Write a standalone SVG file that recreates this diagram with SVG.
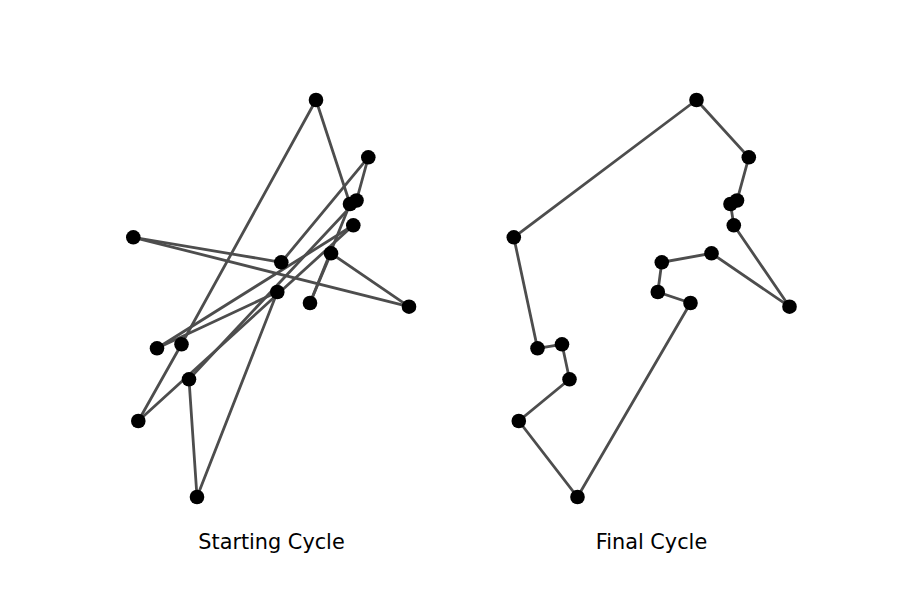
<svg xmlns="http://www.w3.org/2000/svg" width="900" height="600" viewBox="0 0 900 600">
<style>
.e{stroke:#4d4d4d;stroke-width:2.8;fill:none;stroke-linecap:round}
.n{fill:#000}
.t{font-family:"DejaVu Sans",sans-serif;font-size:20.8px;fill:#000;text-anchor:middle}
</style>
<rect width="900" height="600" fill="#fff"/>
<g id="connectors">
<g id="start-edges">
<line class="e" x1="316" y1="100" x2="350" y2="204"/>
<line class="e" x1="316" y1="100" x2="181.5" y2="344.3"/>
<line class="e" x1="181.5" y1="344.3" x2="138.3" y2="421"/>
<line class="e" x1="368.3" y1="157.3" x2="281.3" y2="262.3"/>
<line class="e" x1="368.3" y1="157.3" x2="356.5" y2="200.5"/>
<line class="e" x1="133.3" y1="237.3" x2="281.3" y2="262.3"/>
<line class="e" x1="133.3" y1="237.3" x2="409" y2="306.7"/>
<line class="e" x1="409" y1="306.7" x2="331" y2="253.3"/>
<line class="e" x1="197" y1="497" x2="189" y2="379.3"/>
<line class="e" x1="197" y1="497" x2="277.3" y2="292"/>
<line class="e" x1="157" y1="348.3" x2="277.3" y2="292"/>
<line class="e" x1="157" y1="348.3" x2="353.3" y2="225.3"/>
<line class="e" x1="310" y1="303" x2="350" y2="204"/>
<line class="e" x1="310" y1="303" x2="331" y2="253.3"/>
<line class="e" x1="189" y1="379.3" x2="356.5" y2="200.5"/>
<line class="e" x1="138.3" y1="421" x2="353.3" y2="225.3"/>
</g>
<g id="final-edges">
<polyline class="e" points="696.5,100 748.8,157.3 737,200.5 730.5,204 733.8,225.3 789.5,306.7 711.5,253.3 661.8,262.3 657.8,292 690.5,303 577.5,497 518.8,421 569.5,379.3 562,344.3 537.5,348.3 513.8,237.3 696.5,100"/>
</g>
</g>
<g id="start-nodes">
<g id="s-A"><circle class="n" cx="316" cy="100" r="7.3"/></g>
<g id="s-B"><circle class="n" cx="368.3" cy="157.3" r="7.3"/></g>
<g id="s-C"><circle class="n" cx="350" cy="204" r="7.3"/></g>
<g id="s-D"><circle class="n" cx="356.5" cy="200.5" r="7.3"/></g>
<g id="s-E"><circle class="n" cx="353.3" cy="225.3" r="7.3"/></g>
<g id="s-F"><circle class="n" cx="133.3" cy="237.3" r="7.3"/></g>
<g id="s-G"><circle class="n" cx="281.3" cy="262.3" r="7.3"/></g>
<g id="s-H"><circle class="n" cx="331" cy="253.3" r="7.3"/></g>
<g id="s-I"><circle class="n" cx="277.3" cy="292" r="7.3"/></g>
<g id="s-J"><circle class="n" cx="310" cy="303" r="7.3"/></g>
<g id="s-K"><circle class="n" cx="409" cy="306.7" r="7.3"/></g>
<g id="s-L"><circle class="n" cx="157" cy="348.3" r="7.3"/></g>
<g id="s-M"><circle class="n" cx="181.5" cy="344.3" r="7.3"/></g>
<g id="s-N"><circle class="n" cx="189" cy="379.3" r="7.3"/></g>
<g id="s-O"><circle class="n" cx="138.3" cy="421" r="7.3"/></g>
<g id="s-P"><circle class="n" cx="197" cy="497" r="7.3"/></g>
</g>
<g id="final-nodes">
<g id="f-A"><circle class="n" cx="696.5" cy="100" r="7.3"/></g>
<g id="f-B"><circle class="n" cx="748.8" cy="157.3" r="7.3"/></g>
<g id="f-C"><circle class="n" cx="730.5" cy="204" r="7.3"/></g>
<g id="f-D"><circle class="n" cx="737" cy="200.5" r="7.3"/></g>
<g id="f-E"><circle class="n" cx="733.8" cy="225.3" r="7.3"/></g>
<g id="f-F"><circle class="n" cx="513.8" cy="237.3" r="7.3"/></g>
<g id="f-G"><circle class="n" cx="661.8" cy="262.3" r="7.3"/></g>
<g id="f-H"><circle class="n" cx="711.5" cy="253.3" r="7.3"/></g>
<g id="f-I"><circle class="n" cx="657.8" cy="292" r="7.3"/></g>
<g id="f-J"><circle class="n" cx="690.5" cy="303" r="7.3"/></g>
<g id="f-K"><circle class="n" cx="789.5" cy="306.7" r="7.3"/></g>
<g id="f-L"><circle class="n" cx="537.5" cy="348.3" r="7.3"/></g>
<g id="f-M"><circle class="n" cx="562" cy="344.3" r="7.3"/></g>
<g id="f-N"><circle class="n" cx="569.5" cy="379.3" r="7.3"/></g>
<g id="f-O"><circle class="n" cx="518.8" cy="421" r="7.3"/></g>
<g id="f-P"><circle class="n" cx="577.5" cy="497" r="7.3"/></g>
</g>
<text class="t" x="271.5" y="549">Starting Cycle</text>
<text class="t" x="651.5" y="549">Final Cycle</text>
</svg>
